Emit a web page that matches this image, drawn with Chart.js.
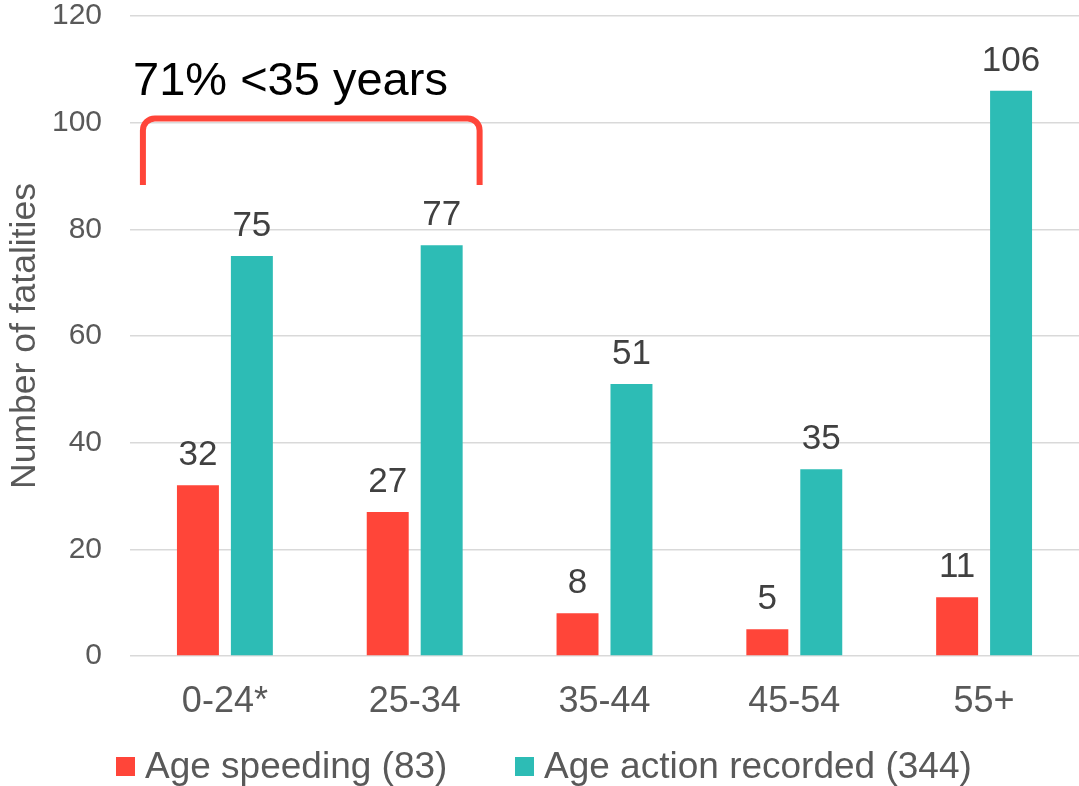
<!DOCTYPE html>
<html>
<head>
<meta charset="utf-8">
<script src="https://cdn.jsdelivr.net/npm/chart.js@4.4.1/dist/chart.umd.min.js"></script>
<style>
  html, body { margin: 0; padding: 0; background: #ffffff; }
  #wrap { width: 1079px; height: 786px; }
</style>
</head>
<body>
<div id="wrap"><canvas id="c" width="1079" height="786"></canvas></div>
<script>
const categories = ['0-24*', '25-34', '35-44', '45-54', '55+'];
const speeding = [32, 27, 8, 5, 11];
const actionRecorded = [75, 77, 51, 35, 106];
const seriesNames = ['Age speeding (83)', 'Age action recorded (344)'];
const yTicks = [0, 20, 40, 60, 80, 100, 120];
const yAxisTitle = 'Number of fatalities';
const annotationText = '71% <35 years';

const RED = '#FF4539';
const TEAL = '#2DBCB5';
const FONT = '"Liberation Sans", Arial, Helvetica, sans-serif';

const overlay = {
  id: 'overlay',
  afterDatasetsDraw(chart) {
    const ctx = chart.ctx;
    const xs = chart.scales.x, ys = chart.scales.y;
    // data labels
    ctx.save();
    ctx.font = '35px ' + FONT;
    ctx.fillStyle = '#404040';
    ctx.textAlign = 'center';
    ctx.textBaseline = 'alphabetic';
    chart.data.datasets.forEach((ds, di) => {
      const meta = chart.getDatasetMeta(di);
      meta.data.forEach((bar, i) => {
        ctx.fillText(String(ds.data[i]), bar.x, bar.y - 20);
      });
    });
    ctx.restore();

    // bracket annotation (positions in category / value units)
    const xl = xs.getPixelForValue(-0.432);
    const xr = xs.getPixelForValue(1.342);
    const yb = ys.getPixelForValue(88.3);
    const yt = ys.getPixelForValue(100.8);
    ctx.save();
    ctx.strokeStyle = RED;
    ctx.lineWidth = 6;
    ctx.lineJoin = 'round';
    ctx.beginPath();
    ctx.moveTo(xl, yb);
    ctx.arcTo(xl, yt, xl + 20, yt, 12);
    ctx.arcTo(xr, yt, xr, yt + 20, 12);
    ctx.lineTo(xr, yb);
    ctx.stroke();
    ctx.restore();

    // annotation text
    ctx.save();
    ctx.font = '47px ' + FONT;
    ctx.fillStyle = '#000000';
    ctx.textAlign = 'left';
    ctx.textBaseline = 'alphabetic';
    ctx.fillText(annotationText, xs.getPixelForValue(-0.484), ys.getPixelForValue(105.2));
    ctx.restore();
  },
  afterDraw(chart) {
    const ctx = chart.ctx;
    const ca = chart.chartArea;
    // y axis title
    ctx.save();
    ctx.font = '35.5px ' + FONT;
    ctx.fillStyle = '#595959';
    ctx.textAlign = 'center';
    ctx.textBaseline = 'alphabetic';
    ctx.translate(35, (ca.top + ca.bottom) / 2);
    ctx.rotate(-Math.PI / 2);
    ctx.fillText(yAxisTitle, 0, 0);
    ctx.restore();

    // legend
    ctx.save();
    ctx.font = '37px ' + FONT;
    ctx.textAlign = 'left';
    ctx.textBaseline = 'alphabetic';
    const items = [
      { color: RED, text: seriesNames[0], x: 116 },
      { color: TEAL, text: seriesNames[1], x: 515 }
    ];
    items.forEach(it => {
      ctx.fillStyle = it.color;
      ctx.fillRect(it.x, 757, 19, 19);
      ctx.fillStyle = '#595959';
      ctx.fillText(it.text, it.x + 29, 778);
    });
    ctx.restore();
  }
};

new Chart(document.getElementById('c'), {
  type: 'bar',
  data: {
    labels: categories,
    datasets: [
      { label: seriesNames[0], data: speeding, backgroundColor: RED, categoryPercentage: 0.5684, barPercentage: 0.778 },
      { label: seriesNames[1], data: actionRecorded, backgroundColor: TEAL, categoryPercentage: 0.5684, barPercentage: 0.778 }
    ]
  },
  options: {
    responsive: false,
    animation: false,
    devicePixelRatio: 1,
    layout: { padding: { top: 16, right: 0, left: 0, bottom: 0 } },
    plugins: { legend: { display: false }, tooltip: { enabled: false }, title: { display: false } },
    scales: {
      x: {
        grid: { display: false, drawTicks: false },
        border: { display: false },
        ticks: { font: { family: FONT, size: 36, lineHeight: 1 }, color: '#595959', padding: 28 },
        afterFit(scale) { scale.height = 130; scale.paddingLeft = 0; scale.paddingRight = 0; }
      },
      y: {
        min: 0, max: 120,
        afterBuildTicks(scale) { scale.ticks = yTicks.map(v => ({ value: v })); },
        grid: { color: '#d9d9d9', lineWidth: 1.5, drawTicks: false },
        border: { display: false },
        ticks: { font: { family: FONT, size: 30, lineHeight: 1 }, color: '#595959', padding: 28 },
        afterFit(scale) { scale.width = 130; scale.paddingTop = 0; scale.paddingBottom = 0; }
      }
    }
  },
  plugins: [overlay]
});
</script>
</body>
</html>
